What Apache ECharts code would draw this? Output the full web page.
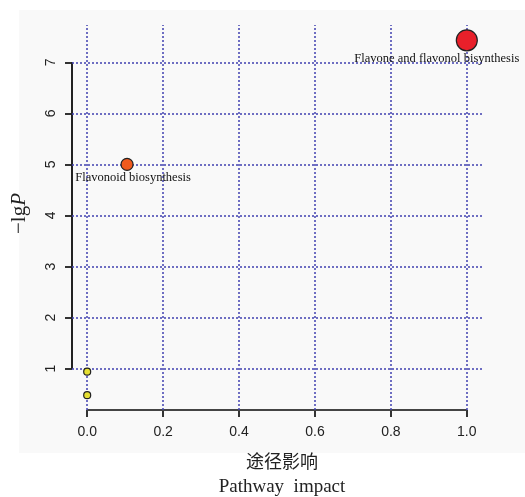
<!DOCTYPE html>
<html><head><meta charset="utf-8">
<script src="https://cdn.jsdelivr.net/npm/echarts@6/dist/echarts.min.js"></script>
<style>html,body{margin:0;padding:0;background:#fff}#c{width:525px;height:497px}</style>
</head><body><div id="c"></div>
<script>
const pathways = ['Flavone and flavonol bisynthesis', 'Flavonoid biosynthesis', '', ''];
const impact = [1.0, 0.105, 0.0, 0.0];
const logP = [7.43, 5.0, 0.94, 0.48];
const pointSize = [21, 12, 7, 7];
const pointColor = ['#e8202a', '#f05a1e', '#e6e032', '#e6e032'];
const xTicks = [0, 0.2, 0.4, 0.6, 0.8, 1.0];
const yTicks = [1, 2, 3, 4, 5, 6, 7];
const xMin = -0.04, xMax = 1.04, yMin = 0.19, yMax = 7.73;

const chart = echarts.init(document.getElementById('c'), null, {renderer: 'canvas'});
const gridColor = '#4040b0';
const labelOffsets = [[-30, 18], [6, 13], [0, 0], [0, 0]];
const scatterData = impact.map((x, i) => ({
  value: [x, logP[i]], name: pathways[i], symbolSize: pointSize[i],
  itemStyle: {color: pointColor[i]},
  label: {show: pathways[i] !== '', position: 'inside', offset: labelOffsets[i]}
}));
chart.setOption({
  animation: false,
  graphic: [{type: 'rect', shape: {x: 19, y: 10, width: 506, height: 443}, style: {fill: '#f9f9f9'}, z: -10}],
  grid: {left: 72, right: 43, top: 25, bottom: 87, containLabel: false, outerBoundsMode: 'none'},
  xAxis: {
    type: 'value', min: xMin, max: xMax,
    axisLine: {show: false, onZero: false},
    axisTick: {show: true, customValues: xTicks, length: 7, lineStyle: {color: '#333', width: 2}},
    axisLabel: {customValues: xTicks, formatter: v => v.toFixed(1), color: '#222', fontFamily: 'Liberation Sans', fontSize: 14, margin: 15},
    splitLine: {show: false},
    name: '{cn|途径影响}\n{en|Pathway  impact}', nameLocation: 'middle', nameGap: 38,
    nameTextStyle: {rich: {
      cn: {fontFamily: 'Noto Sans CJK SC', fontSize: 18, color: '#222', lineHeight: 26, padding: [0,0,0,10]},
      en: {fontFamily: 'Liberation Serif', fontSize: 19, color: '#222', lineHeight: 26, padding: [0,0,0,10]}
    }}
  },
  yAxis: {
    type: 'value', min: yMin, max: yMax,
    axisLine: {show: false, onZero: false},
    axisTick: {show: true, customValues: yTicks, length: 7, lineStyle: {color: '#333', width: 2}},
    axisLabel: {customValues: yTicks, rotate: 90, color: '#222', fontFamily: 'Liberation Sans', fontSize: 14, margin: 14},
    splitLine: {show: false},
    name: '{a|−lg}{b|P}', nameLocation: 'middle', nameGap: 42, nameRotate: 90,
    nameTextStyle: {padding: [0, 0, 0, 8], rich: {
      a: {fontFamily: 'Liberation Serif', fontSize: 21, color: '#222'},
      b: {fontFamily: 'Liberation Serif', fontSize: 21, fontStyle: 'italic', color: '#222'}
    }}
  },
  series: [
    {type: 'line', silent: true, symbol: 'none', data: [], z: 1,
     markLine: {silent: true, symbol: 'none', label: {show: false},
       lineStyle: {color: gridColor, type: [2, 2], width: 1.5},
       data: xTicks.map(v => ({xAxis: v})).concat(yTicks.map(v => ({yAxis: v})))}},
    {type: 'line', silent: true, symbol: 'none', clip: false, z: 2,
     lineStyle: {color: '#222', width: 2},
     data: [[xMin, yTicks[0]], [xMin, yTicks[yTicks.length - 1]]]},
    {type: 'line', silent: true, symbol: 'none', clip: false, z: 2,
     lineStyle: {color: '#444', width: 2},
     data: [[xTicks[0], yMin], [xTicks[xTicks.length - 1], yMin]]},
    {type: 'scatter', z: 10,
     itemStyle: {borderColor: '#222', borderWidth: 1.2, opacity: 1},
     label: {color: '#111', fontFamily: 'Liberation Serif', fontSize: 12.5, formatter: p => p.name},
     data: scatterData.slice().reverse()}
  ]
});
</script></body></html>
